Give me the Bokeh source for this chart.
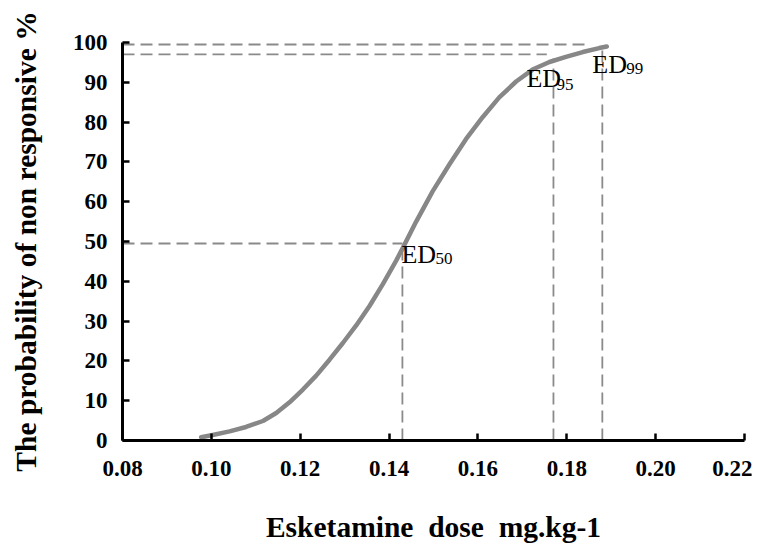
from bokeh.plotting import figure
from bokeh.models import Range1d, ColumnDataSource, FixedTicker
from bokeh.core.properties import value
from bokeh.embed import file_html
from bokeh.resources import INLINE

# Curve
dose = [0.0977, 0.1003, 0.1041, 0.1078, 0.1116, 0.1146, 0.1176, 0.1206,
        0.1236, 0.1266, 0.1296, 0.1326, 0.1356, 0.1386, 0.1416, 0.1431,
        0.1461, 0.1498, 0.1536, 0.1573, 0.1611, 0.1648, 0.1686, 0.1723,
        0.1761, 0.1798, 0.1836, 0.1873, 0.189]
prob = [0.8, 1.4, 2.3, 3.4, 4.9, 6.9, 9.6, 12.8,
        16.3, 20.3, 24.5, 28.9, 33.8, 39.3, 45.2, 48.4,
        55.0, 62.6, 69.4, 75.7, 81.3, 86.2, 90.2, 93.2,
        95.1, 96.4, 97.6, 98.6, 99.0]

# ED guide lines
ed_names = ["50", "95", "99"]
ed_dose = [0.143, 0.177, 0.188]
ed_vtop = [49.5, 96, 98.2]
ed_hprob = [49.5, 97, 99.5]
ed_hend = [0.143, 0.1755, 0.185]

x_ticks = [0.08, 0.10, 0.12, 0.14, 0.16, 0.18, 0.20, 0.22]
y_ticks = [0, 10, 20, 30, 40, 50, 60, 70, 80, 90, 100]

FONT = "Liberation Serif"
GRAY = "#8a8a8a"

p = figure(width=752, height=545, output_backend="svg", toolbar_location=None,
           x_range=Range1d(0.08, 0.22), y_range=Range1d(0, 100),
           min_border_left=122, min_border_right=8, min_border_top=42,
           min_border_bottom=103)
p.outline_line_color = None
p.grid.visible = False

# dashed guides
p.segment(x0=ed_dose, y0=[0] * len(ed_dose), x1=ed_dose, y1=ed_vtop,
          line_color=GRAY, line_width=1.8, line_dash="12 6")
p.segment(x0=[0.08] * len(ed_dose), y0=ed_hprob, x1=ed_hend, y1=ed_hprob,
          line_color=GRAY, line_width=1.8, line_dash="12 6")

# curve
p.line(dose, prob, line_color="#878787", line_width=4.5, line_cap="round",
       line_join="round")

# labels
src = ColumnDataSource(dict(x=ed_dose, y=ed_hprob, ed=["ED"] * 3,
                            xo=[-1, -27, -10], yo=[11, 24, 20]))
p.text(x="x", y="y", text="ed", source=src, x_offset="xo", y_offset="yo",
       text_font=value(FONT), text_font_size="26px", text_color="black",
       text_align="left", text_baseline="alphabetic")
src2 = ColumnDataSource(dict(x=ed_dose, y=ed_hprob, sub=ed_names,
                             xo=[33, 3, 24], yo=[15, 30, 24]))
p.text(x="x", y="y", text="sub", source=src2, x_offset="xo", y_offset="yo",
       text_font=value(FONT), text_font_size="17px", text_color="black",
       text_align="left", text_baseline="alphabetic")

p.axis.axis_line_width = 3
p.axis.axis_line_color = "black"
p.axis.major_tick_in = 7
p.axis.major_tick_out = 0
p.axis.major_tick_line_width = 2.5
p.axis.major_tick_line_color = "black"
p.axis.minor_tick_line_color = None
p.axis.major_label_text_font = FONT
p.axis.major_label_text_font_style = "bold"
p.axis.major_label_text_font_size = "23px"
p.axis.major_label_text_color = "black"
p.axis.axis_label_text_font = FONT
p.axis.axis_label_text_font_style = "bold"
p.axis.axis_label_text_font_size = "29.5px"
p.axis.axis_label_text_color = "black"

p.xaxis.ticker = FixedTicker(ticks=x_ticks)
p.yaxis.ticker = FixedTicker(ticks=y_ticks)
p.xaxis.major_label_overrides = {t: f"{t:.2f}" for t in x_ticks}
p.xaxis.major_label_standoff = 20
p.yaxis.major_label_standoff = 15
p.xaxis.axis_label = "Esketamine\u00a0 dose\u00a0 mg.kg-1"
p.yaxis.axis_label = "The probability of non responsive %"
p.xaxis.axis_label_standoff = 32
p.yaxis.axis_label_standoff = 28

open("out.html", "w").write(file_html(p, INLINE))
